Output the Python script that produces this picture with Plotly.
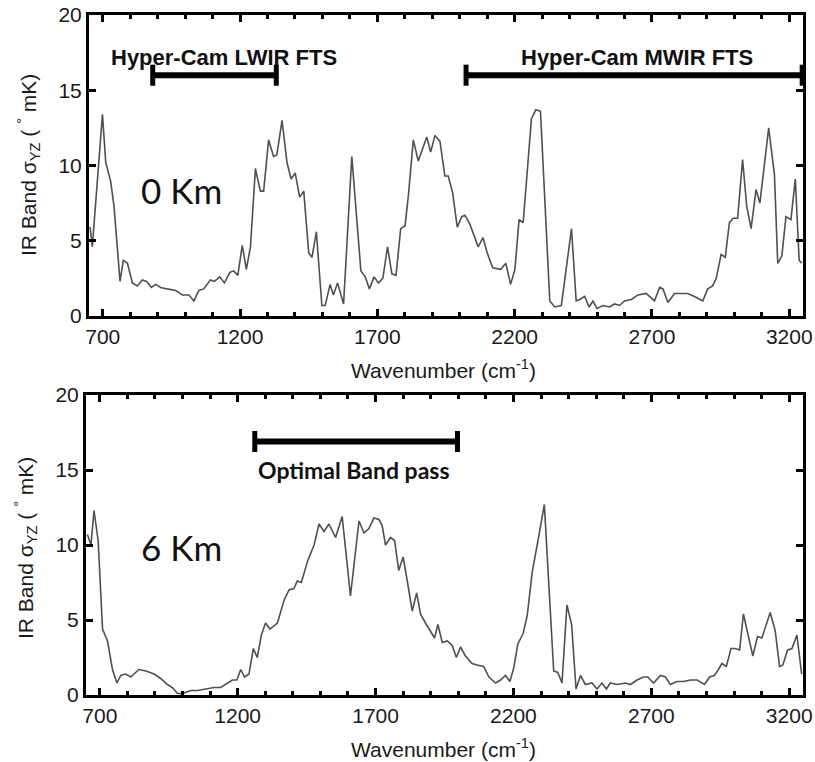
import plotly.graph_objects as go

# ---- data: 0 Km panel ----
wn_0km = [654, 662, 699, 711, 729, 741, 763, 775, 790, 808, 826, 844, 860, 877, 893, 911, 935, 965, 990,
          1014, 1032, 1050, 1068, 1092, 1107, 1126, 1143, 1163, 1177, 1192, 1208, 1223, 1238, 1256, 1274,
          1286, 1304, 1322, 1334, 1353, 1371, 1386, 1401, 1417, 1432, 1450, 1462, 1478, 1498, 1510, 1528,
          1540, 1555, 1577, 1607, 1640, 1656, 1671, 1688, 1704, 1720, 1737, 1753, 1768, 1785, 1801, 1813,
          1831, 1849, 1865, 1880, 1894, 1910, 1928, 1946, 1958, 1974, 1991, 2007, 2019, 2037, 2067, 2085,
          2100, 2120, 2149, 2168, 2185, 2201, 2216, 2231, 2261, 2277, 2294, 2328, 2346, 2370, 2407, 2424,
          2437, 2455, 2471, 2485, 2500, 2522, 2546, 2564, 2582, 2600, 2625, 2649, 2679, 2709, 2728, 2740,
          2758, 2782, 2806, 2830, 2855, 2885, 2903, 2921, 2934, 2952, 2967, 2982, 2996, 3012, 3030, 3045,
          3061, 3079, 3093, 3125, 3146, 3158, 3173, 3188, 3206, 3222, 3236, 3245]
sig_0km = [5.9, 4.6, 13.4, 10.2, 8.95, 7.3, 2.3, 3.7, 3.5, 2.2, 2.0, 2.4, 2.3, 1.9, 2.1, 1.9, 1.8, 1.7, 1.4,
           1.4, 1.0, 1.7, 1.8, 2.4, 2.3, 2.6, 2.2, 2.9, 3.0, 2.7, 4.7, 3.1, 4.6, 9.8, 8.3,
           8.3, 11.7, 10.6, 10.7, 13.0, 10.2, 9.1, 9.5, 7.9, 8.3, 4.2, 3.9, 5.6, 0.7, 0.7, 2.1,
           1.4, 2.2, 0.8, 10.6, 3.0, 2.6, 1.8, 2.6, 2.2, 2.5, 4.6, 2.8, 2.7, 5.8, 6.0, 8.0,
           11.7, 10.3, 11.2, 11.9, 10.9, 12.0, 11.6, 9.3, 9.3, 8.2, 5.9, 6.6, 6.7, 6.1, 4.6, 5.2,
           4.2, 3.2, 3.1, 3.5, 2.1, 3.1, 6.4, 6.2, 13.1, 13.7, 13.6, 1.0, 0.6, 0.7, 5.8, 1.0,
           1.1, 1.3, 0.6, 1.0, 0.5, 0.7, 0.6, 0.8, 0.7, 1.0, 1.1, 1.4, 1.5, 1.0, 1.9, 1.8,
           0.9, 1.5, 1.5, 1.5, 1.3, 1.0, 1.8, 2.0, 2.5, 4.1, 3.9, 6.2, 6.5, 6.5, 10.4, 7.3,
           5.8, 8.4, 7.5, 12.5, 9.4, 3.5, 4.0, 6.6, 6.4, 9.1, 3.7, 3.5]

# ---- data: 6 Km panel ----
wn_6km = [655, 668, 679, 694, 710, 728, 746, 762, 776, 794, 812, 842, 867, 897, 921, 945, 963, 982, 1000,
          1030, 1054, 1090, 1114, 1138, 1163, 1181, 1197, 1211, 1225, 1241, 1257, 1271, 1286, 1301, 1317,
          1344, 1368, 1386, 1404, 1416, 1431, 1453, 1477, 1495, 1513, 1531, 1555, 1579, 1609, 1640, 1658,
          1676, 1694, 1712, 1724, 1736, 1754, 1769, 1784, 1800, 1815, 1833, 1849, 1863, 1881, 1899, 1914,
          1926, 1942, 1960, 1978, 1993, 2008, 2026, 2050, 2068, 2092, 2111, 2135, 2153, 2171, 2187, 2201,
          2216, 2235, 2250, 2268, 2292, 2312, 2346, 2361, 2376, 2394, 2411, 2427, 2443, 2461, 2485, 2503,
          2521, 2537, 2551, 2576, 2606, 2624, 2648, 2672, 2687, 2708, 2733, 2751, 2769, 2793, 2817, 2842,
          2866, 2893, 2911, 2928, 2940, 2956, 2972, 2989, 3004, 3020, 3034, 3053, 3068, 3085, 3101, 3131,
          3149, 3165, 3177, 3194, 3210, 3228, 3242, 3245]
sig_6km = [10.7, 10.0, 12.3, 10.3, 4.4, 3.6, 1.7, 0.8, 1.3, 1.4, 1.2, 1.7, 1.6, 1.4, 1.1, 0.7, 0.5, 0.1, 0.1,
           0.3, 0.3, 0.4, 0.5, 0.5, 0.8, 1.0, 1.0, 1.7, 1.2, 1.4, 3.1, 2.5, 4.0, 4.8, 4.4,
           4.8, 6.3, 7.0, 7.1, 7.6, 7.5, 8.9, 10.0, 11.4, 10.9, 11.4, 10.5, 11.9, 6.6, 11.6, 10.8,
           11.1, 11.8, 11.7, 11.3, 10.0, 10.5, 10.3, 8.3, 9.2, 7.6, 5.6, 6.8, 5.4, 4.8, 4.3, 3.8,
           4.7, 3.5, 3.6, 3.3, 2.5, 3.2, 2.6, 2.1, 2.0, 1.9, 1.2, 0.8, 1.0, 1.3, 0.9, 1.8,
           3.4, 4.1, 5.3, 8.2, 10.6, 12.7, 1.6, 1.5, 0.8, 6.0, 4.7, 0.4, 1.3, 0.7, 0.8, 0.4,
           0.8, 0.4, 0.8, 0.7, 0.8, 0.7, 1.0, 1.2, 1.2, 0.8, 1.3, 1.2, 0.7, 0.9, 0.9, 1.0,
           1.0, 0.7, 1.2, 1.3, 1.6, 2.1, 1.9, 3.1, 3.1, 3.0, 5.4, 3.7, 2.6, 3.9, 3.8, 5.5,
           4.3, 1.9, 2.0, 3.0, 3.1, 4.0, 1.7, 1.4]

# ---- band bars (start, end, level) ----
lwir_band = [882, 1332, 16.0]
mwir_band = [2023, 3247, 16.0]
optimal_band = [1262, 1997, 16.9]

x_ticks = [700, 1200, 1700, 2200, 2700, 3200]
y_ticks = [0, 5, 10, 15, 20]

LINE_COLOR = "#505050"
TICK_FONT = dict(family="Liberation Sans, Arial, sans-serif", size=21, color="#1a1a1a")

fig = go.Figure()

fig.add_trace(go.Scatter(x=wn_0km, y=sig_0km, mode="lines", xaxis="x", yaxis="y",
                         line=dict(color=LINE_COLOR, width=1.6), showlegend=False))
fig.add_trace(go.Scatter(x=wn_6km, y=sig_6km, mode="lines", xaxis="x2", yaxis="y2",
                         line=dict(color=LINE_COLOR, width=1.6), showlegend=False))


def add_band(band, xa, ya, caph=0.7):
    x0, x1, lev = band
    fig.add_trace(go.Scatter(x=[x0, x1], y=[lev, lev], mode="lines", xaxis=xa, yaxis=ya,
                             line=dict(color="black", width=6), showlegend=False, cliponaxis=False))
    for xc in (x0, x1):
        fig.add_trace(go.Scatter(x=[xc, xc], y=[lev - caph, lev + caph], mode="lines",
                                 xaxis=xa, yaxis=ya, line=dict(color="black", width=5),
                                 showlegend=False, cliponaxis=False))


add_band(lwir_band, "x", "y")
add_band(mwir_band, "x", "y")
add_band(optimal_band, "x2", "y2")

axis_common = dict(range=[650, 3250], tickmode="array", tickvals=x_ticks,
                   ticktext=[str(v) for v in x_ticks], ticks="inside", ticklen=7, tickwidth=2.5,
                   tickcolor="black", showline=True, linecolor="black", linewidth=3,
                   mirror="allticks", showgrid=False, zeroline=False, tickfont=TICK_FONT,
                   automargin=False,
                   minor=dict(dtick=100, tick0=700, ticks="inside", ticklen=4, tickwidth=2.5,
                              tickcolor="black", showgrid=False))
yaxis_common = dict(range=[0, 20], tickmode="array", tickvals=y_ticks,
                    ticks="inside", ticklen=7, tickwidth=2.5, tickcolor="black",
                    showline=True, linecolor="black", linewidth=3, mirror="allticks",
                    showgrid=False, zeroline=False, tickfont=TICK_FONT, automargin=False)

fig.update_layout(
    width=815, height=762,
    margin=dict(l=0, r=0, t=0, b=0, autoexpand=False),
    paper_bgcolor="white", plot_bgcolor="white",
    xaxis=dict(domain=[89 / 815, 803 / 815], anchor="y", **axis_common),
    yaxis=dict(domain=[1 - 316 / 762, 1 - 15 / 762], anchor="x", **yaxis_common),
    xaxis2=dict(domain=[86 / 815, 803 / 815], anchor="y2", **axis_common),
    yaxis2=dict(domain=[1 - 695 / 762, 1 - 395 / 762], anchor="x2", **yaxis_common),
)

ann = []
ytitle = "IR Band σ<sub>YZ</sub> ( <sup>°</sup> mK)"
xtitle = "Wavenumber (cm<sup>-1</sup>)"
title_font = dict(family="Liberation Sans, Arial, sans-serif", size=21, color="#1a1a1a")
ann.append(dict(text=ytitle, xref="paper", yref="paper", x=28 / 815, y=1 - 165 / 762,
                textangle=-90, showarrow=False, font=title_font, xanchor="center", yanchor="middle"))
ann.append(dict(text=ytitle, xref="paper", yref="paper", x=25 / 815, y=1 - 548 / 762,
                textangle=-90, showarrow=False, font=title_font, xanchor="center", yanchor="middle"))
ann.append(dict(text=xtitle, xref="paper", yref="paper", x=444 / 815, y=1 - 369 / 762,
                showarrow=False, font=title_font, xanchor="center", yanchor="middle"))
ann.append(dict(text=xtitle, xref="paper", yref="paper", x=444 / 815, y=1 - 748 / 762,
                showarrow=False, font=title_font, xanchor="center", yanchor="middle"))

km_font = dict(family="Lato, Open Sans, sans-serif", size=35, color="#111")
ann.append(dict(text="0 Km", xref="x", yref="y", x=987, y=8.4, showarrow=False, font=km_font))
ann.append(dict(text="6 Km", xref="x2", yref="y2", x=997, y=9.9, showarrow=False, font=km_font))

band_font = dict(family="Liberation Sans, Arial, sans-serif", size=22, color="#111")
ann.append(dict(text="<b>Hyper-Cam LWIR FTS</b>", xref="x", yref="y", x=1141, y=17.2,
                showarrow=False, font=band_font))
ann.append(dict(text="<b>Hyper-Cam MWIR FTS</b>", xref="x", yref="y", x=2644, y=17.2,
                showarrow=False, font=band_font))
ann.append(dict(text="<b>Optimal Band pass</b>", xref="x2", yref="y2", x=1620, y=15.0,
                showarrow=False, font=dict(family="Lato, Open Sans, sans-serif", size=23, color="#111")))

fig.update_layout(annotations=ann)

fig.write_html(
    "out.html",
    config={"displayModeBar": False},
    post_script="document.body.style.margin='0';document.body.style.padding='0';"
                "document.body.style.overflow='hidden';",
)
